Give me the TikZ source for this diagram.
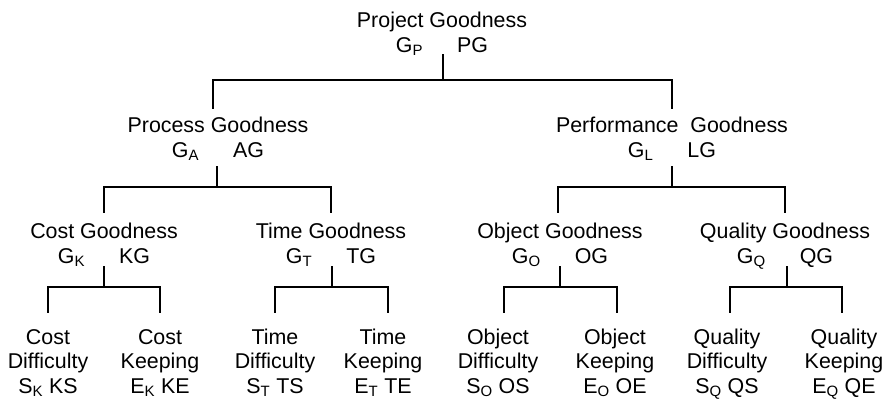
\documentclass[tikz,border=0pt]{standalone}
\usepackage{fontspec}
\setmainfont{Liberation Sans}
\newcommand{\sbs}[1]{\textsubscript{#1}}
\newcommand{\code}[2]{#1\hspace{34pt}#2}
\begin{document}
\begin{tikzpicture}[x=1pt,y=-1pt,
  lbl/.style={inner sep=0pt, align=center, anchor=base,
    font=\fontsize{21.4}{24.5}\selectfont},
  wire/.style={line width=1.6pt, line cap=rect}]
\useasboundingbox (0,0) rectangle (893,399);
\fill[white] (0,0) rectangle (893,399);

% concept labels: title line, then symbol and abbreviation
% (the base anchor sits on the last line)
\node[lbl] (pg) at (442,52) {Project Goodness\\\code{G\sbs{P}}{PG}};
\node[lbl] (ag) at (218,157) {Process Goodness\\\code{G\sbs{A}}{AG}};
\node[lbl] (lg) at (672,157) {Performance\ \ Goodness\\\code{G\sbs{L}}{LG}};
\node[lbl] (kg) at (104,263) {Cost Goodness\\\code{G\sbs{K}}{KG}};
\node[lbl] (tg) at (331,263) {Time Goodness\\\code{G\sbs{T}}{TG}};
\node[lbl] (og) at (560,263) {Object Goodness\\\code{G\sbs{O}}{OG}};
\node[lbl] (qg) at (785,263) {Quality Goodness\\\code{G\sbs{Q}}{QG}};

% leaves
\node[lbl] (ks) at (48,393)  {Cost\\Difficulty\\S\sbs{K}\ KS};
\node[lbl] (ke) at (160,393) {Cost\\Keeping\\E\sbs{K}\ KE};
\node[lbl] (ts) at (275,393) {Time\\Difficulty\\S\sbs{T}\ TS};
\node[lbl] (te) at (383,393) {Time\\Keeping\\E\sbs{T}\ TE};
\node[lbl] (os) at (498,393) {Object\\Difficulty\\S\sbs{O}\ OS};
\node[lbl] (oe) at (615,393) {Object\\Keeping\\E\sbs{O}\ OE};
\node[lbl] (qs) at (727,393) {Quality\\Difficulty\\S\sbs{Q}\ QS};
\node[lbl] (qe) at (844,393) {Quality\\Keeping\\E\sbs{Q}\ QE};

% bracket connectors: stem, bar, drops
\draw[wire] (443,55) -- (443,80);
\draw[wire] (213,108) -- (213,80) -- (672,80) -- (672,108);

\draw[wire] (217,167) -- (217,187);
\draw[wire] (104,212) -- (104,187) -- (331,187) -- (331,212);
\draw[wire] (672,167) -- (672,187);
\draw[wire] (558,212) -- (558,187) -- (785,187) -- (785,212);

\draw[wire] (104,267) -- (104,287);
\draw[wire] (48,312) -- (48,287) -- (160,287) -- (160,312);
\draw[wire] (332,267) -- (332,287);
\draw[wire] (275,312) -- (275,287) -- (388,287) -- (388,312);
\draw[wire] (560,267) -- (560,287);
\draw[wire] (504,312) -- (504,287) -- (617,287) -- (617,312);
\draw[wire] (787,267) -- (787,287);
\draw[wire] (730,312) -- (730,287) -- (842,287) -- (842,312);
\end{tikzpicture}
\end{document}
